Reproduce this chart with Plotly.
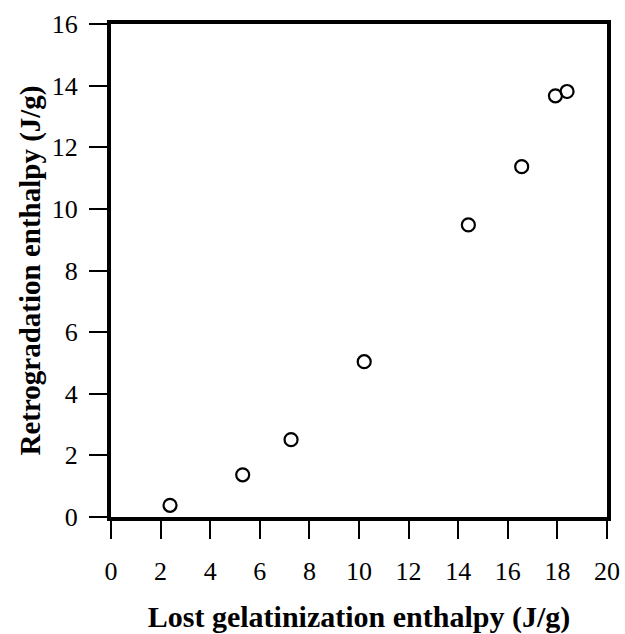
import plotly.graph_objects as go

# Lost gelatinization enthalpy vs retrogradation enthalpy (J/g)
lost_gel = [2.38, 5.31, 7.26, 10.21, 14.41, 16.56, 17.92, 18.39]
retro = [0.38, 1.37, 2.51, 5.04, 9.48, 11.37, 13.67, 13.81]

x_ticks = list(range(0, 21, 2))
y_ticks = list(range(0, 17, 2))

FONT = "Liberation Serif"

fig = go.Figure(
    go.Scatter(
        x=lost_gel,
        y=retro,
        mode="markers",
        marker=dict(symbol="circle-open", size=13, color="black",
                    line=dict(width=2.2, color="black")),
        showlegend=False,
    )
)

fig.update_layout(
    width=625,
    height=634,
    margin=dict(l=111, r=18, t=24, b=117),
    plot_bgcolor="white",
    paper_bgcolor="white",
    font=dict(family=FONT, size=25, color="black"),
)

fig.update_xaxes(
    range=[0, 20],
    tickvals=x_ticks,
    ticktext=[str(v) for v in x_ticks],
    ticks="outside",
    ticklen=18,
    tickwidth=2,
    tickcolor="black",
    ticklabelstandoff=10,
    showline=True,
    linewidth=4,
    linecolor="black",
    mirror=True,
    showgrid=False,
    zeroline=False,
    automargin=False,
    tickfont=dict(family=FONT, size=26),
    title=dict(text="<b>Lost gelatinization enthalpy (J/g)</b>",
               font=dict(family=FONT, size=30), standoff=26),
)

fig.update_yaxes(
    range=[0, 16],
    tickvals=y_ticks,
    ticktext=[str(v) for v in y_ticks],
    ticks="outside",
    ticklen=18,
    tickwidth=2,
    tickcolor="black",
    ticklabelstandoff=6,
    showline=True,
    linewidth=4,
    linecolor="black",
    mirror=True,
    showgrid=False,
    zeroline=False,
    automargin=False,
    tickfont=dict(family=FONT, size=26),
    title=dict(text="<b>Retrogradation enthalpy (J/g)</b>",
               font=dict(family=FONT, size=29), standoff=4),
)

fig.write_html("out.html")
